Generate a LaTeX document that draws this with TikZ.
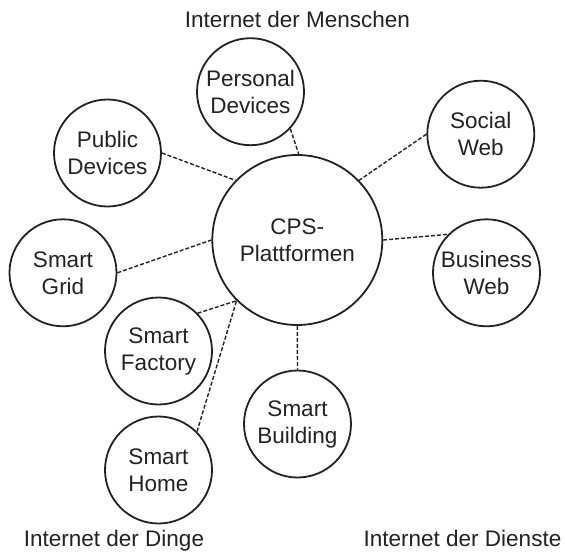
\documentclass[tikz,border=0pt]{standalone}
\usepackage{fontspec}
\setmainfont{Liberation Sans}
\begin{document}
\definecolor{ink}{HTML}{222222}
\begin{tikzpicture}[x=1pt,y=-1pt,
  bubble/.style={circle,draw=ink,line width=1.8pt,minimum size=107pt,inner sep=0pt,align=center,text=ink,
    font=\fontsize{22.5}{27}\selectfont},
  hub/.style={bubble,minimum size=170pt},
  link/.style={draw=ink,line width=1.4pt,dash pattern=on 4pt off 2pt},
  caption/.style={anchor=base,text=ink,font=\fontsize{22.5}{27}\selectfont}]
\useasboundingbox (0,0) rectangle (565,552);
\node[hub] (cps) at (297.3,240) {CPS-\\Plattformen};
\node[bubble] (pd) at (250.5,91.7) {Personal\\Devices};
\node[bubble] (pub) at (107.5,153) {Public\\Devices};
\node[bubble] (sw) at (480.8,134.2) {Social\\Web};
\node[bubble] (sg) at (63,272.8) {Smart\\Grid};
\node[bubble] (bw) at (486.5,272.8) {Business\\Web};
\node[bubble] (sf) at (158.5,351) {Smart\\Factory};
\node[bubble] (sb) at (297.5,424) {Smart\\Building};
\node[bubble] (sh) at (158.5,470) {Smart\\Home};
\node[caption] (tm) at (297.4,27.7) {Internet der Menschen};
\node[caption] (td) at (114,546.7) {Internet der Dinge};
\node[caption] (ts) at (462.5,546.7) {Internet der Dienste};
\draw[link] (pd.-43) -- (cps.89);
\draw[link] (pub.0) -- (cps.136);
\draw[link] (sw.180) -- (cps.44.4);
\draw[link] (sg.0) -- (cps.180);
\draw[link] (cps.0) -- (bw.135);
\draw[link] (sf.44) -- (cps.225.5);
\draw[link] (sh.45) -- (cps.225.5);
\draw[link] (cps.270) -- (sb.90);
\end{tikzpicture}
\end{document}
